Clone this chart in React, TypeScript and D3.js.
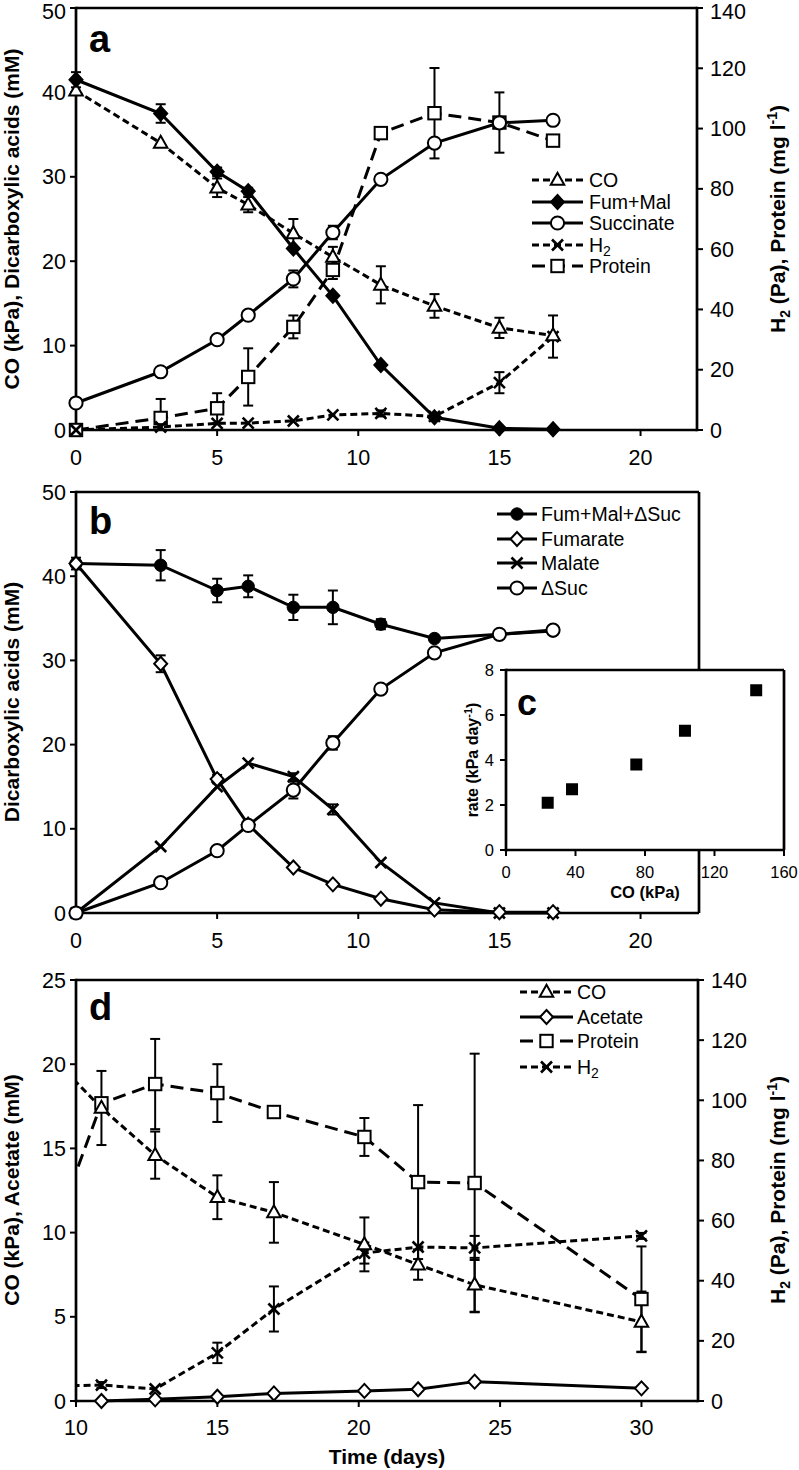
import React from 'react';
import * as d3 from 'd3';

// ---------- Panel a data ----------
const timesA = [0, 3, 5, 6.1, 7.7, 9.1, 10.8, 12.7, 15, 16.9];
const coA = [40.2, 34.0, 28.7, 26.7, 23.3, 20.5, 17.2, 14.7, 12.1, 11.2];
const coAErr = [0, 0, 1.1, 0.9, 1.7, 1.2, 2.2, 1.4, 1.2, 0];
const fumMalA = [41.5, 37.5, 30.6, 28.3, 21.5, 15.9, 7.7, 1.5, 0.2, 0.1];
const fumMalAErr = [0.9, 1.1, 0.5, 0.4, 0, 0, 0, 0, 0, 0];
const succA = [3.2, 6.9, 10.7, 13.6, 17.9, 23.4, 29.7, 34.0, 36.4, 36.7];
const succAErr = [0, 0, 0, 0, 1.0, 0.8, 0, 0, 0, 0];
const h2A = [0, 1, 2.2, 2.3, 3.0, 5.0, 5.5, 4.5, 15.7, 31];
const h2AErr = [0, 0, 0, 0, 0, 0, 1, 0, 3.5, 7];
const proteinA = [0, 4.0, 7.2, 17.6, 34.2, 53.1, 98.5, 105.1, 102, 96];
const proteinAErr = [0, 6.3, 5, 9.5, 3.8, 3, 0, 15, 10, 0];

// ---------- Panel b data ----------
const fmsB = [41.5, 41.3, 38.3, 38.8, 36.3, 36.3, 34.3, 32.6, 33.1, 33.5];
const fmsBErr = [0.7, 1.8, 1.4, 1.3, 1.5, 2.0, 0.6, 0, 0, 0];
const fumarateB = [41.5, 29.6, 15.9, 10.5, 5.4, 3.4, 1.7, 0.4, 0.1, 0.1];
const fumarateBErr = [0, 1.0, 0.5, 0, 0, 0, 0, 0, 0, 0];
const malateB = [0, 7.9, 15.0, 17.8, 16.2, 12.3, 6.0, 1.2, 0, 0];
const malateBErr = [0, 0, 0, 0, 0.4, 0.6, 0, 0, 0, 0];
const dSucB = [0, 3.6, 7.4, 10.4, 14.6, 20.2, 26.6, 30.9, 33.1, 33.6];
const dSucBErr = [0, 0, 0, 0, 1.0, 0.8, 0, 0, 0, 0];

// ---------- Panel c data ----------
const coC = [24, 38, 75, 103, 144];
const rateC = [2.1, 2.7, 3.8, 5.3, 7.1];

// ---------- Panel d data ----------
const timesD = [9.1, 10.9, 12.8, 15, 17, 20.2, 22.1, 24.1, 30];
const coD = [20.5, 17.4, 14.6, 12.1, 11.2, 9.3, 8.1, 6.9, 4.7];
const coDErr = [0, 2.2, 1.4, 1.3, 1.8, 1.6, 0.9, 1.6, 1.8];
const proteinD = [53, 99, 105.4, 102.4, 96.1, 87.8, 72.8, 72.5, 33.9];
const proteinDErr = [0, 0, 15, 9.6, 0, 6.3, 25.6, 43, 17.5];
const h2D = [5, 5.3, 4.0, 16, 30.6, 49.2, 51.2, 50.9, 54.9];
const h2DErr = [0, 1, 0, 3.4, 7.5, 3.5, 0, 4, 1];
const timesAcetate = [10.9, 12.8, 15, 17, 20.2, 22.1, 24.1, 30];
const acetateD = [0, 0.1, 0.25, 0.45, 0.6, 0.7, 1.15, 0.75];

// ---------- ticks ----------
const ticksX_ab = [0, 5, 10, 15, 20];
const ticksX_d = [10, 15, 20, 25, 30];
const ticksLeft50 = [0, 10, 20, 30, 40, 50];
const ticksLeft25 = [0, 5, 10, 15, 20, 25];
const ticksRight140 = [0, 20, 40, 60, 80, 100, 120, 140];
const ticksCX = [0, 40, 80, 120, 160];
const ticksCY = [0, 2, 4, 6, 8];

const FONT = 'Liberation Sans, Arial, Helvetica, sans-serif';
const SHORT = '7,4';
const LONG = '13,7';
const TICK_FS = 21.5;

type MType = 'triangle' | 'diamond' | 'diamondFilled' | 'circle' | 'circleFilled' | 'square' | 'squareFilled' | 'x';

function Marker({ type, x, y }: { type: MType; x: number; y: number }) {
  const sw = 2;
  switch (type) {
    case 'triangle': {
      const s = 13.5, h = 12;
      return <path d={`M${x},${y - h * 0.6}L${x + s / 2},${y + h * 0.4}L${x - s / 2},${y + h * 0.4}Z`} fill="#fff" stroke="#000" strokeWidth={sw} />;
    }
    case 'diamond':
    case 'diamondFilled': {
      const w = 6.5, h = 7;
      return <path d={`M${x},${y - h}L${x + w},${y}L${x},${y + h}L${x - w},${y}Z`} fill={type === 'diamond' ? '#fff' : '#000'} stroke="#000" strokeWidth={sw} />;
    }
    case 'circle':
      return <circle cx={x} cy={y} r={6.6} fill="#fff" stroke="#000" strokeWidth={sw} />;
    case 'circleFilled':
      return <circle cx={x} cy={y} r={6.2} fill="#000" stroke="#000" strokeWidth={1} />;
    case 'square':
      return <rect x={x - 6.2} y={y - 6.2} width={12.4} height={12.4} fill="#fff" stroke="#000" strokeWidth={sw} />;
    case 'squareFilled':
      return <rect x={x - 6} y={y - 6} width={12} height={12} fill="#000" />;
    case 'x':
      return (
        <g stroke="#000" strokeWidth={2.6}>
          <line x1={x - 5.5} y1={y - 5.5} x2={x + 5.5} y2={y + 5.5} />
          <line x1={x - 5.5} y1={y + 5.5} x2={x + 5.5} y2={y - 5.5} />
        </g>
      );
  }
  return null;
}

type Series = {
  t: number[];
  v: number[];
  err?: number[];
  marker: MType;
  dash?: string;
  x: d3.ScaleLinear<number, number>;
  y: d3.ScaleLinear<number, number>;
};

function SeriesLine({ s }: { s: Series }) {
  const line = d3
    .line<number>()
    .x((_, i) => s.x(s.t[i]))
    .y((d) => s.y(d));
  return <path d={line(s.v) || ''} fill="none" stroke="#000" strokeWidth={3} strokeDasharray={s.dash} />;
}

function SeriesErr({ s }: { s: Series }) {
  if (!s.err) return null;
  return (
    <g stroke="#000" strokeWidth={2}>
      {s.v.map((v, i) => {
        const e = s.err![i];
        if (!e) return null;
        const cx = s.x(s.t[i]);
        const y1 = s.y(v + e);
        const y2 = s.y(Math.max(0, v - e));
        return (
          <g key={i}>
            <line x1={cx} x2={cx} y1={y1} y2={y2} />
            <line x1={cx - 5} x2={cx + 5} y1={y1} y2={y1} />
            <line x1={cx - 5} x2={cx + 5} y1={y2} y2={y2} />
          </g>
        );
      })}
    </g>
  );
}

function SeriesMarkers({ s }: { s: Series }) {
  return (
    <g>
      {s.v.map((v, i) => (
        <Marker key={i} type={s.marker} x={s.x(s.t[i])} y={s.y(v)} />
      ))}
    </g>
  );
}

function Data({ series }: { series: Series[] }) {
  return (
    <g>
      {series.map((s, i) => (
        <g key={i}>
          <SeriesLine s={s} />
        </g>
      ))}
      {series.map((s, i) => (
        <g key={'e' + i}>
          <SeriesErr s={s} />
        </g>
      ))}
      {series.map((s, i) => (
        <g key={'m' + i}>
          <SeriesMarkers s={s} />
        </g>
      ))}
    </g>
  );
}

type LegItem = { label: React.ReactNode; marker: MType; dash?: string };

function Legend({ items, rows, x1, x2, tx }: { items: LegItem[]; rows: number[]; x1: number; x2: number; tx: number }) {
  const mx = (x1 + x2) / 2;
  return (
    <g>
      {items.map((it, i) => (
        <g key={i}>
          <line x1={x1} x2={x2} y1={rows[i]} y2={rows[i]} stroke="#000" strokeWidth={3} strokeDasharray={it.dash} />
          <Marker type={it.marker} x={mx} y={rows[i]} />
          <text x={tx} y={rows[i]} dy="0.35em" fontSize={19.5} fontFamily={FONT}>
            {it.label}
          </text>
        </g>
      ))}
    </g>
  );
}

function LeftAxis({ y, x, ticks, fs = TICK_FS, lx, topShift = 0 }: { y: d3.ScaleLinear<number, number>; x: number; ticks: number[]; fs?: number; lx?: number; topShift?: number }) {
  const [r0, r1] = y.range();
  const maxT = Math.max(...ticks);
  return (
    <g>
      <line x1={x} x2={x} y1={r0 + 1.3} y2={r1 - 1.3} stroke="#000" strokeWidth={2.7} />
      {ticks.map((t) => (
        <g key={t}>
          <line x1={x - 6} x2={x} y1={y(t)} y2={y(t)} stroke="#000" strokeWidth={2} />
          <text x={lx ?? x - 10} y={y(t) + (t === maxT ? topShift : 0)} dy="0.35em" textAnchor="end" fontSize={fs} fontFamily={FONT}>
            {t}
          </text>
        </g>
      ))}
    </g>
  );
}

function RightAxis({ y, x, ticks, topShift = 0 }: { y: d3.ScaleLinear<number, number>; x: number; ticks: number[]; topShift?: number }) {
  const [r0, r1] = y.range();
  const maxT = Math.max(...ticks);
  return (
    <g>
      <line x1={x} x2={x} y1={r0 + 1.3} y2={r1 - 1.3} stroke="#000" strokeWidth={2.7} />
      {ticks.map((t) => (
        <g key={t}>
          <line x1={x} x2={x + 6} y1={y(t)} y2={y(t)} stroke="#000" strokeWidth={2} />
          <text x={x + 13} y={y(t) + (t === maxT ? topShift : 0)} dy="0.35em" textAnchor="start" fontSize={TICK_FS} fontFamily={FONT}>
            {t}
          </text>
        </g>
      ))}
    </g>
  );
}

function BottomAxis({ x, y, ticks, fs = TICK_FS, off = 27, x2 }: { x: d3.ScaleLinear<number, number>; y: number; ticks: number[]; fs?: number; off?: number; x2?: number }) {
  const [r0, r1] = x.range();
  return (
    <g>
      <line x1={r0 - 1.3} x2={x2 ?? r1} y1={y} y2={y} stroke="#000" strokeWidth={2.7} />
      {ticks.map((t) => (
        <g key={t}>
          <line x1={x(t)} x2={x(t)} y1={y} y2={y + 6} stroke="#000" strokeWidth={2} />
          <text x={x(t)} y={y + off} dy="0.35em" textAnchor="middle" fontSize={fs} fontFamily={FONT}>
            {t}
          </text>
        </g>
      ))}
    </g>
  );
}

function VTitle({ x, y, children, fs = 21 }: { x: number; y: number; children: React.ReactNode; fs?: number }) {
  return (
    <text transform={`translate(${x},${y}) rotate(-90)`} textAnchor="middle" fontSize={fs} fontWeight="bold" fontFamily={FONT}>
      {children}
    </text>
  );
}

const rightTitle = (
  <>
    H<tspan dy={5} fontSize={14}>2</tspan>
    <tspan dy={-5}> (Pa), Protein (mg l</tspan>
    <tspan dy={-8} fontSize={14}>-1</tspan>
    <tspan dy={8}>)</tspan>
  </>
);

const h2Label = (
  <>
    H<tspan dy={4} fontSize={14}>2</tspan>
  </>
);

export default function App() {
  // Panel a scales
  const xAB = d3.scaleLinear().domain([0, 22]).range([76, 697]);
  const yAL = d3.scaleLinear().domain([0, 50]).range([430, 8]);
  const yAR = d3.scaleLinear().domain([0, 140]).range([430, 8]);
  // Panel b
  const yB = d3.scaleLinear().domain([0, 50]).range([913, 492]);
  // Panel c
  const xC = d3.scaleLinear().domain([0, 160]).range([506, 784]);
  const yC = d3.scaleLinear().domain([0, 8]).range([850, 670]);
  // Panel d
  const xD = d3.scaleLinear().domain([10, 32]).range([76, 698]);
  const yDL = d3.scaleLinear().domain([0, 25]).range([1401, 980]);
  const yDR = d3.scaleLinear().domain([0, 140]).range([1401, 980]);

  const seriesA: Series[] = [
    { t: timesA, v: proteinA, err: proteinAErr, marker: 'square', dash: LONG, x: xAB, y: yAR },
    { t: timesA, v: h2A, err: h2AErr, marker: 'x', dash: SHORT, x: xAB, y: yAR },
    { t: timesA, v: coA, err: coAErr, marker: 'triangle', dash: SHORT, x: xAB, y: yAL },
    { t: timesA, v: succA, err: succAErr, marker: 'circle', x: xAB, y: yAL },
    { t: timesA, v: fumMalA, err: fumMalAErr, marker: 'diamondFilled', x: xAB, y: yAL },
  ];

  const seriesB: Series[] = [
    { t: timesA, v: fmsB, err: fmsBErr, marker: 'circleFilled', x: xAB, y: yB },
    { t: timesA, v: malateB, err: malateBErr, marker: 'x', x: xAB, y: yB },
    { t: timesA, v: fumarateB, err: fumarateBErr, marker: 'diamond', x: xAB, y: yB },
    { t: timesA, v: dSucB, err: dSucBErr, marker: 'circle', x: xAB, y: yB },
  ];

  const seriesD: Series[] = [
    { t: timesD, v: proteinD, err: proteinDErr, marker: 'square', dash: LONG, x: xD, y: yDR },
    { t: timesD, v: h2D, err: h2DErr, marker: 'x', dash: SHORT, x: xD, y: yDR },
    { t: timesD, v: coD, err: coDErr, marker: 'triangle', dash: SHORT, x: xD, y: yDL },
    { t: timesAcetate, v: acetateD, marker: 'diamond', x: xD, y: yDL },
  ];

  return (
    <svg width={799} height={1470} style={{ position: 'absolute', left: 0, top: 0, background: '#fff' }} fontFamily={FONT}>
      <rect width={799} height={1470} fill="#fff" />
      <defs>
        <clipPath id="clipD">
          <rect x={76} y={960} width={622} height={460} />
        </clipPath>
      </defs>

      {/* ===== Panel a ===== */}
      <line x1={76} x2={697} y1={8} y2={8} stroke="#000" strokeWidth={2.7} />
      <BottomAxis x={xAB} y={430} ticks={ticksX_ab} />
      <LeftAxis y={yAL} x={76} ticks={ticksLeft50} topShift={3} />
      <RightAxis y={yAR} x={697} ticks={ticksRight140} topShift={3} />
      <VTitle x={19} y={219}>CO (kPa), Dicarboxylic acids (mM)</VTitle>
      <VTitle x={785} y={219}>{rightTitle}</VTitle>
      <text x={89} y={52} fontSize={38} fontWeight="bold">a</text>
      <Data series={seriesA} />
      <Legend
        rows={[180, 202, 223, 245, 266]}
        x1={532}
        x2={583}
        tx={589}
        items={[
          { label: 'CO', marker: 'triangle', dash: SHORT },
          { label: 'Fum+Mal', marker: 'diamondFilled' },
          { label: 'Succinate', marker: 'circle' },
          { label: h2Label, marker: 'x', dash: SHORT },
          { label: 'Protein', marker: 'square', dash: LONG },
        ]}
      />

      {/* ===== Panel b ===== */}
      <line x1={76} x2={699} y1={492} y2={492} stroke="#000" strokeWidth={2.7} />
      <line x1={699} x2={699} y1={492} y2={913} stroke="#000" strokeWidth={2.7} />
      <BottomAxis x={xAB} y={913} ticks={ticksX_ab} x2={699} />
      <LeftAxis y={yB} x={76} ticks={ticksLeft50} />
      <VTitle x={19} y={702}>Dicarboxylic acids (mM)</VTitle>
      <text x={89} y={534} fontSize={38} fontWeight="bold">b</text>
      <Data series={seriesB} />
      <Legend
        rows={[514, 539, 563, 588]}
        x1={497}
        x2={537}
        tx={541}
        items={[
          { label: 'Fum+Mal+ΔSuc', marker: 'circleFilled' },
          { label: 'Fumarate', marker: 'diamond' },
          { label: 'Malate', marker: 'x' },
          { label: 'ΔSuc', marker: 'circle' },
        ]}
      />

      {/* ===== Panel c (inset) ===== */}
      <rect x={xC(0)} y={yC(8)} width={xC(160) - xC(0)} height={yC(0) - yC(8)} fill="#fff" />
      <line x1={xC(0)} x2={xC(160)} y1={yC(8)} y2={yC(8)} stroke="#000" strokeWidth={2.7} />
      <line x1={xC(160)} x2={xC(160)} y1={yC(8)} y2={yC(0)} stroke="#000" strokeWidth={2.7} />
      <LeftAxis y={yC} x={506} ticks={ticksCY} fs={16.5} lx={494} />
      <BottomAxis x={xC} y={850} ticks={ticksCX} fs={16.5} off={22} />
      <VTitle x={478} y={760} fs={16}>
        rate (kPa day<tspan dy={-6} fontSize={11}>-1</tspan>
        <tspan dy={6}>)</tspan>
      </VTitle>
      <text x={645} y={898} textAnchor="middle" fontSize={16.5} fontWeight="bold">CO (kPa)</text>
      <text x={517} y={715} fontSize={36} fontWeight="bold">c</text>
      {coC.map((c, i) => (
        <Marker key={i} type="squareFilled" x={xC(c)} y={yC(rateC[i])} />
      ))}

      {/* ===== Panel d ===== */}
      <line x1={76} x2={698} y1={980} y2={980} stroke="#000" strokeWidth={2.7} />
      <BottomAxis x={xD} y={1401} ticks={ticksX_d} off={26} />
      <LeftAxis y={yDL} x={76} ticks={ticksLeft25} />
      <RightAxis y={yDR} x={698} ticks={ticksRight140} />
      <VTitle x={19} y={1190}>CO (kPa), Acetate (mM)</VTitle>
      <VTitle x={785} y={1190}>{rightTitle}</VTitle>
      <text x={89} y={1020} fontSize={38} fontWeight="bold">d</text>
      <g clipPath="url(#clipD)">
        <Data series={seriesD} />
      </g>
      <Legend
        rows={[992, 1017, 1041, 1067]}
        x1={520}
        x2={573}
        tx={577}
        items={[
          { label: 'CO', marker: 'triangle', dash: SHORT },
          { label: 'Acetate', marker: 'diamond' },
          { label: 'Protein', marker: 'square', dash: LONG },
          { label: h2Label, marker: 'x', dash: SHORT },
        ]}
      />
      <text x={387} y={1464} textAnchor="middle" fontSize={21} fontWeight="bold">Time (days)</text>
    </svg>
  );
}
